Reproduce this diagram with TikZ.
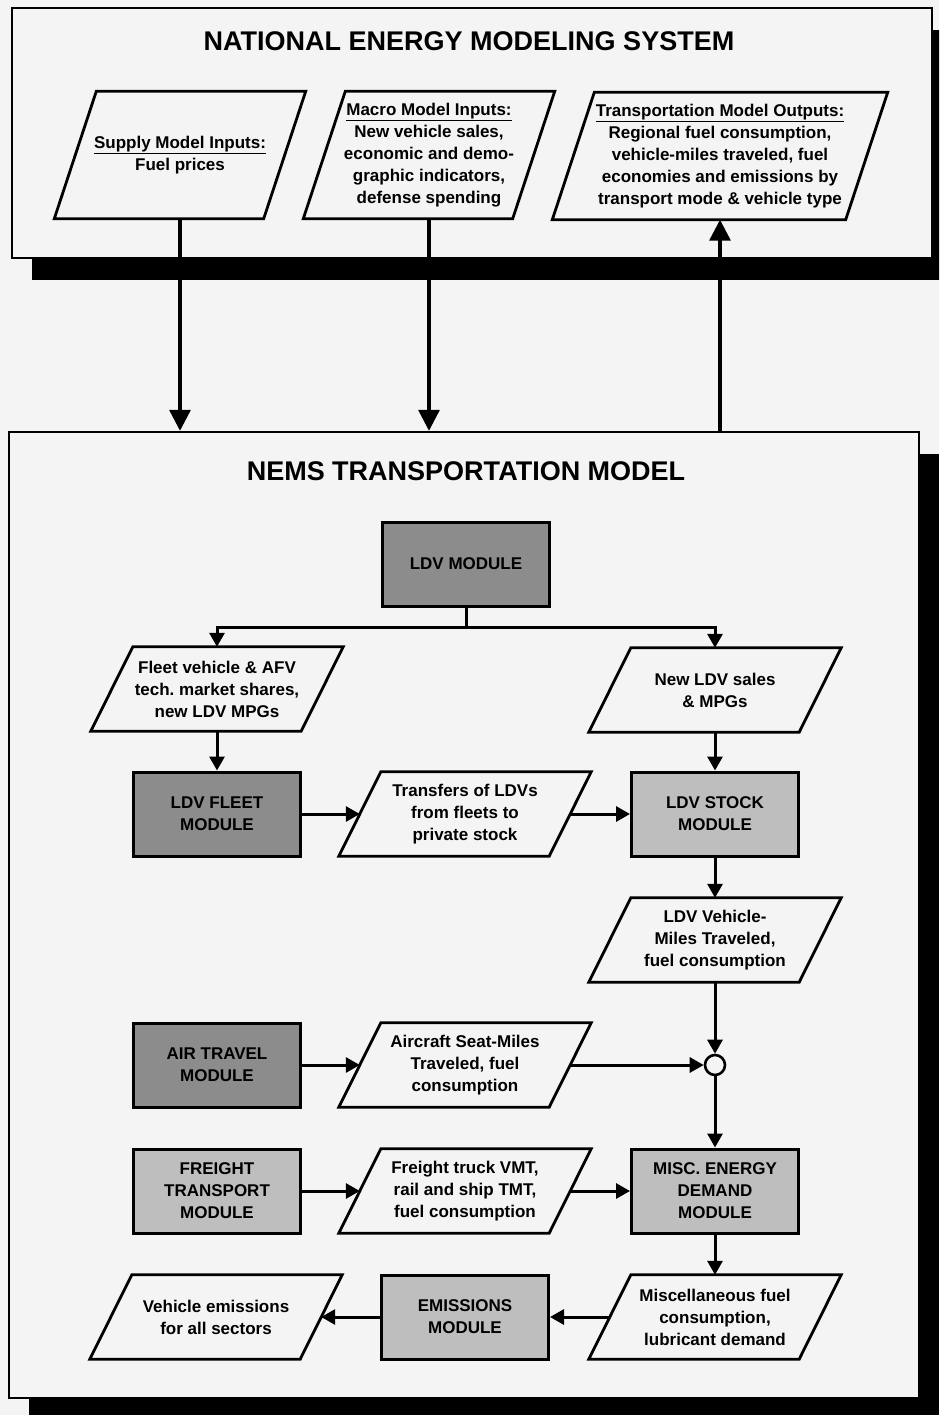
\documentclass[tikz,border=0pt]{standalone}
\usepackage{fontspec}
\setmainfont{Liberation Sans}
\usetikzlibrary{arrows.meta,shadows}
\definecolor{paper}{RGB}{244,244,244}
\definecolor{darkmod}{RGB}{140,140,140}
\definecolor{lightmod}{RGB}{190,190,190}
\begin{document}
\begin{tikzpicture}[x=1pt, y=-1pt,
      every node/.style={font=\fontsize{17}{22}\selectfont\bfseries\frenchspacing, align=center},
      heading/.style={font=\fontsize{27}{30}\selectfont\bfseries},
      frame/.style={draw, line width=2.4pt, fill=paper,
         drop shadow={shadow xshift=20pt, shadow yshift=-22pt, fill=black, opacity=1}},
      module/.style={draw, line width=3pt, fill=#1, minimum width=167, minimum height=84, inner sep=1pt},
      datanode/.style={minimum width=#1, inner sep=0pt},
      para/.style={draw, line width=2.8pt, line join=miter},
      link/.style={line width=3pt},
      flow/.style={line width=3pt, -{Triangle[length=14pt, width=15pt]}},
      bigflow/.style={line width=3.2pt, -{Triangle[length=21pt, width=21pt]}}]
   \useasboundingbox (0,0) rectangle (939,1415);
   \clip (0,0) rectangle (939,1415);
   \fill[paper] (0,0) rectangle (939,1415);
   % the two frames
   \node[frame, minimum width=920, minimum height=250] (nems) at (472,133) {};
   \node[frame, minimum width=910, minimum height=966] (tm) at (464,915) {};
   \node[heading] (nemstitle) at (469,41) {NATIONAL ENERGY MODELING SYSTEM};
   \node[heading] (tmtitle) at (466,471) {NEMS TRANSPORTATION MODEL};
   % NEMS inputs and outputs
   \def \Inputs {
      sup/180/155/209/{\underline{Supply Model Inputs:}\\Fuel prices},
      mac/429/155/209/{\underline{Macro Model Inputs:}\\New vehicle sales,\\economic and demo-\\graphic indicators,\\defense spending},
      out/720/156/293/{\underline{Transportation Model Outputs:}\\Regional fuel consumption,\\vehicle-miles traveled, fuel\\economies and emissions by\\transport mode \& vehicle type}}
   \foreach \n / \x / \y / \w / \t in \Inputs {
      \node[datanode=\w, minimum height=127] (\n) at (\x, \y) {\t};
      \draw[para] ([xshift=21pt]\n.north west) -- ([xshift=21pt]\n.north east)
         -- ([xshift=-21pt]\n.south east) -- ([xshift=-21pt]\n.south west) -- cycle;
   }
   % modules
   \def \Modules {
      ldv/466/564/darkmod/{LDV MODULE},
      fleet/217/814/darkmod/{LDV FLEET\\MODULE},
      stock/715/814/lightmod/{LDV STOCK\\MODULE},
      air/217/1065/darkmod/{AIR TRAVEL\\MODULE},
      freight/217/1191/lightmod/{FREIGHT\\TRANSPORT\\MODULE},
      misc/715/1191/lightmod/{MISC. ENERGY\\DEMAND\\MODULE},
      emis/465/1317/lightmod/{EMISSIONS\\MODULE}}
   \foreach \n / \x / \y / \c / \t in \Modules {
      \node[module=\c] (\n) at (\x, \y) {\t};
   }
   % module outputs
   \def \Outputs {
      fleetin/217/689/{Fleet vehicle \& AFV\\tech. market shares,\\new LDV MPGs},
      newldv/715/690/{New LDV sales\\\& MPGs},
      transfer/465/814/{Transfers of LDVs\\from fleets to\\private stock},
      ldvvmt/715/940/{LDV Vehicle-\\Miles Traveled,\\fuel consumption},
      aircraft/465/1065/{Aircraft Seat-Miles\\Traveled, fuel\\consumption},
      freightout/465/1191/{Freight truck VMT,\\rail and ship TMT,\\fuel consumption},
      miscout/715/1317/{Miscellaneous fuel\\consumption,\\lubricant demand},
      vehemis/216/1317/{Vehicle emissions\\for all sectors}}
   \foreach \n / \x / \y / \t in \Outputs {
      \node[datanode=210, minimum height=84] (\n) at (\x, \y) {\t};
      \draw[para] ([xshift=21pt]\n.north west) -- ([xshift=21pt]\n.north east)
         -- ([xshift=-21pt]\n.south east) -- ([xshift=-21pt]\n.south west) -- cycle;
   }
   \node[draw, circle, line width=2.6pt, fill=paper, minimum size=20, inner sep=0pt] (join) at (715,1065) {};
   \coordinate (split) at (466,627);
   % connectors
   \draw[bigflow] (sup.south) -- (sup.south |- tm.north);
   \draw[bigflow] (mac.south) -- (mac.south |- tm.north);
   \draw[bigflow] (out.south |- tm.north) -- (out.south);
   \draw[link] (ldv.south) -- (split);
   \draw[flow] (split) -| (fleetin.north);
   \draw[flow] (split) -| (newldv.north);
   \draw[flow] (fleetin) -- (fleet);
   \draw[flow] (newldv) -- (stock);
   \draw[flow] (fleet) -- (transfer);
   \draw[flow] (transfer) -- (stock);
   \draw[flow] (stock) -- (ldvvmt);
   \draw[flow] (ldvvmt) -- (join);
   \draw[flow] (air) -- (aircraft);
   \draw[flow] (aircraft) -- (join);
   \draw[flow] (join) -- (misc);
   \draw[flow] (freight) -- (freightout);
   \draw[flow] (freightout) -- (misc);
   \draw[flow] (misc) -- (miscout);
   \draw[flow] (miscout) -- (emis);
   \draw[flow] (emis) -- (vehemis);
\end{tikzpicture}
\end{document}
